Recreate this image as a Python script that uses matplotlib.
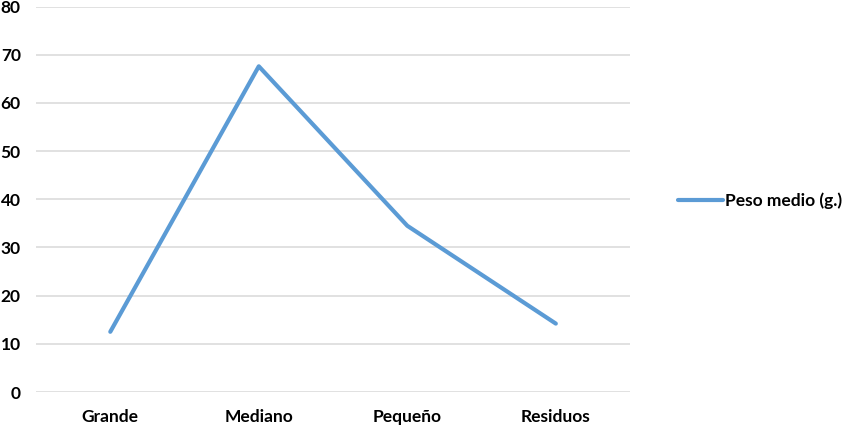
import matplotlib.pyplot as plt
from matplotlib.lines import Line2D

categories = ['Grande', 'Mediano', 'Pequeño', 'Residuos']
peso_medio = [12.5, 67.6, 34.5, 14.2]
y_ticks = [0, 10, 20, 30, 40, 50, 60, 70, 80]

plt.rcParams['font.family'] = ['Lato', 'DejaVu Sans']
plt.rcParams['font.weight'] = 'bold'

fig = plt.figure(figsize=(8.42, 4.25), dpi=100)
ax = fig.add_axes([0.0428, 0.0776, 0.7055, 0.907])

x = list(range(len(categories)))
ax.plot(x, peso_medio, color='#5B9BD5', linewidth=3, solid_capstyle='round',
        solid_joinstyle='round', label='Peso medio (g.)', zorder=3)

ax.set_xlim(-0.5, len(categories) - 0.5)
ax.set_ylim(0, 80)
ax.set_yticks(y_ticks)
ax.set_xticks(x)
ax.set_xticklabels(categories, fontsize=12.5, fontweight='bold')
ax.set_yticklabels([str(v) for v in y_ticks], fontsize=12.5, fontweight='bold')
ax.tick_params(axis='y', length=0, pad=11)
ax.tick_params(axis='x', length=0, pad=12)

ax.grid(axis='y', color='#D9D9D9', linewidth=1.1)
ax.set_axisbelow(True)
for s in ax.spines.values():
    s.set_visible(False)

handle = Line2D([], [], color='#5B9BD5', linewidth=3, solid_capstyle='round')
fig.legend([handle], ['Peso medio (g.)'], loc='center left',
           bbox_to_anchor=(0.787, 0.527), frameon=False, handlelength=2.6,
           handletextpad=0.1, prop={'size': 12.5, 'weight': 'bold'})

fig.savefig('out.png', dpi=100)
